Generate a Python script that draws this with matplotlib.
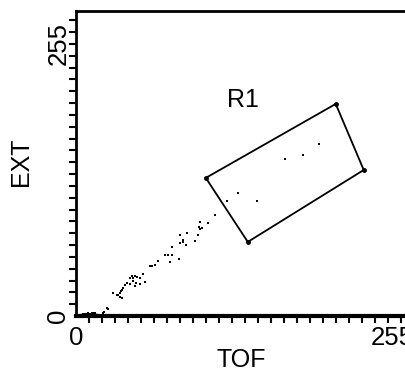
import numpy as np
import matplotlib.pyplot as plt
from matplotlib.ticker import MultipleLocator

plt.rcParams['font.family'] = ['Liberation Sans', 'DejaVu Sans']

# events (TOF, EXT)
tof = np.array([2, 4, 6, 7.5, 9, 10, 11.5, 13, 14, 15.5, 12, 21.8, 22.5, 25, 25.8,
                33.1, 33.9, 35.5, 37.1, 35.5, 37.1, 39.5, 41.1, 29.9, 38.1, 36.1,
                43.5, 43.5, 46, 47.6, 49.2, 51.6, 45.9, 48.8, 51.7, 54.1, 55.6, 44.9, 47.8,
                59.7, 61.3, 63.7, 66.2, 71.8, 74.2, 77.4, 75.8, 83.1, 77.4, 83.9, 86.3,
                86.3, 88.7, 83.9, 89.5, 95.9, 98.4, 99.3, 100, 100, 101.6, 106.2, 106.5,
                112.1, 121.8, 130.7, 146, 168.6, 183.1, 196])
ext = np.array([0.5, 1, 1.5, 1.8, 2, 2.5, 2.2, 2.8, 3, 2.5, 1.5, 2.8, 3.7, 7.5, 6.5,
                19.6, 19.6, 17.8, 16.8, 21.5, 24.3, 29.0, 30.8, 21.5, 26, 23,
                30, 35.5, 35.5, 37.4, 36.4, 35.5, 33, 31, 30, 39.3, 32, 37, 28,
                46.7, 46.7, 47.7, 51.4, 57.0, 57.0, 57.0, 50.5, 53.3, 64.5, 68.2, 69.2,
                71.0, 66.4, 76, 77.6, 70.1, 75.7, 83.2, 81.3, 87.9, 82.2, 86.9, 86.9,
                94.4, 107.5, 115.0, 107.5, 146.7, 150.5, 160.7])

# gate R1 corners
gate_x = [104.8, 209.7, 232.3, 138.7, 104.8]
gate_y = [129.0, 198.1, 136.4, 69.2, 129.0]

fig = plt.figure(figsize=(4.05, 3.77), dpi=100)
ax = fig.add_axes([76 / 405, 61 / 377, 353 / 405, 305 / 377])
ax.set_xlim(0, 285)
ax.set_ylim(0, 284.9)

ax.plot(tof, ext, 's', color='black', ms=1.6, mew=0)
ax.plot([5, 16], [1.0, 1.0], color='black', lw=2.5)
ax.plot(gate_x, gate_y, color='black', lw=1.3)
ax.plot(gate_x[:-1], gate_y[:-1], 'o', color='black', ms=2.5)
ax.text(134.7, 202, 'R1', fontsize=18, ha='center', va='center')

ax.spines['right'].set_visible(False)
ax.spines['left'].set_linewidth(2)
ax.spines['top'].set_linewidth(2)
ax.spines['bottom'].set_linewidth(3)

ax.set_xticks([0, 255])
ax.set_yticks([0, 255])
ax.set_xticklabels(['0', '255'], fontsize=18.5)
ax.set_yticklabels(['0', '255'], fontsize=18.5, rotation=90, va='center')
ax.xaxis.set_minor_locator(MultipleLocator(10.5))
ax.yaxis.set_minor_locator(MultipleLocator(11.05))
ax.tick_params(which='both', direction='out', length=5, width=1.5, color='black')
ax.tick_params(axis='x', which='major', length=0, pad=7)
ax.tick_params(axis='y', which='major', length=0, pad=4)

ax.set_xlabel('TOF', fontsize=18)
ax.set_ylabel('EXT', fontsize=18)
ax.xaxis.set_label_coords((241 - 76) / 353, -(348 - 316) / 305)
ax.yaxis.set_label_coords(-(76 - 33) / 353, (316 - 162) / 305)

fig.savefig('out.png', dpi=100)
